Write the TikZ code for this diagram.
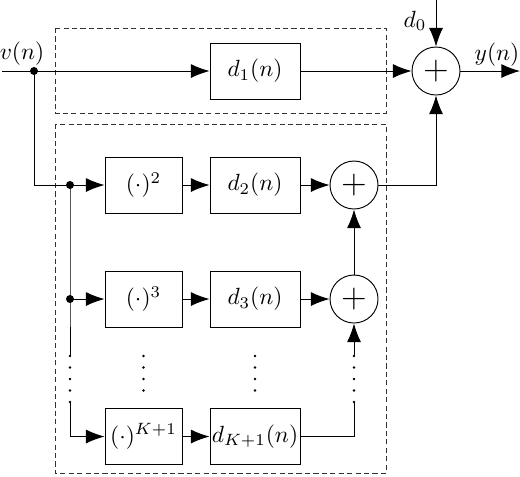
\documentclass[tikz,border=0pt]{standalone}
\usepackage{amsmath,amssymb}
\usetikzlibrary{arrows.meta,positioning}

\begin{document}
\begin{tikzpicture}[
  x=0.15mm, y=-0.15mm,
  pwr/.style={draw, minimum width=11.55mm, minimum height=8.4mm, inner sep=0pt},
  filt/.style={draw, minimum width=13.5mm, minimum height=8.4mm, inner sep=0pt},
  adder/.style={draw, circle, minimum size=7.2mm, inner sep=0pt, font=\Large},
  grp/.style={draw=black!80, dash pattern=on 2.2pt off 1.4pt},
  sig/.style={-{Latex[length=2.8mm, width=2.1mm]}}
]
  \useasboundingbox (0,0) rectangle (520,476);

  % dashed groups
  \draw[grp] (55,28) rectangle (386,113);
  \draw[grp] (55,124) rectangle (386,473);

  % linear branch and output adder
  \node[filt]  (d1) at (255,71) {$d_1(n)$};
  \node[adder] (S0) at (436,71) {$+$};

  % nonlinear branches
  \node[pwr]   (p2) at (143.5,185) {$(\cdot)^2$};
  \node[filt]  (d2) at (255,185)   {$d_2(n)$};
  \node[adder] (S2) at (354,185)   {$+$};

  \node[pwr]   (p3) at (143.5,299) {$(\cdot)^3$};
  \node[filt]  (d3) at (255,299)   {$d_3(n)$};
  \node[adder] (S3) at (354,299)   {$+$};

  \node[pwr]   (pK) at (143.5,436.5) {$(\cdot)^{K+1}$};
  \node[filt]  (dK) at (255,436.5)   {$d_{K+1}(n)$};

  % labels
  \node (vlab)  at (22,54)  {$v(n)$};
  \node (d0lab) at (415,21) {$d_0$};
  \node (ylab)  at (497,55) {$y(n)$};

  % free ends and corners
  \coordinate (in)  at (2,71);
  \coordinate (J0)  at (34,71);
  \coordinate (out) at (520,71);
  \coordinate (top) at (436,0);
  \coordinate (J2)  at (70,185);
  \coordinate (J3)  at (70,299);
  \coordinate (L1)  at (70,356);
  \coordinate (L2)  at (70,402);
  \coordinate (R1)  at (354,356);
  \coordinate (R2)  at (354,402);

  % connectors
  \draw (in) -- (J0);
  \draw[sig] (J0) -- (d1);
  \draw[sig] (d1) -- (S0);
  \draw[sig] (S0) -- (out);
  \draw[sig] (top) -- (S0);
  \draw (J0) |- (J2);
  \draw (J2) -- (J3) -- (L1);
  \draw[sig] (J2) -- (p2);
  \draw[sig] (p2) -- (d2);
  \draw[sig] (d2) -- (S2);
  \draw[sig] (S2) -| (S0);
  \draw[sig] (J3) -- (p3);
  \draw[sig] (p3) -- (d3);
  \draw[sig] (d3) -- (S3);
  \draw[sig] (S3) -- (S2);
  \draw[sig] (L2) |- (pK);
  \draw[sig] (pK) -- (dK);
  \draw (dK) -| (R2);
  \draw[sig] (R1) -- (S3);

  % junction dots
  \foreach \c in {J0,J2,J3}
    \fill (\c) circle (0.6mm);

  % continuation dots
  \foreach \yy in {356,367.5,379,390.5,402} {
    \fill (70,\yy) circle (0.22mm);
    \fill (354,\yy) circle (0.22mm);
  }
  \foreach \yy in {356,367.5,379,390.5} {
    \fill (143.5,\yy) circle (0.22mm);
    \fill (255,\yy) circle (0.22mm);
  }
\end{tikzpicture}
\end{document}
